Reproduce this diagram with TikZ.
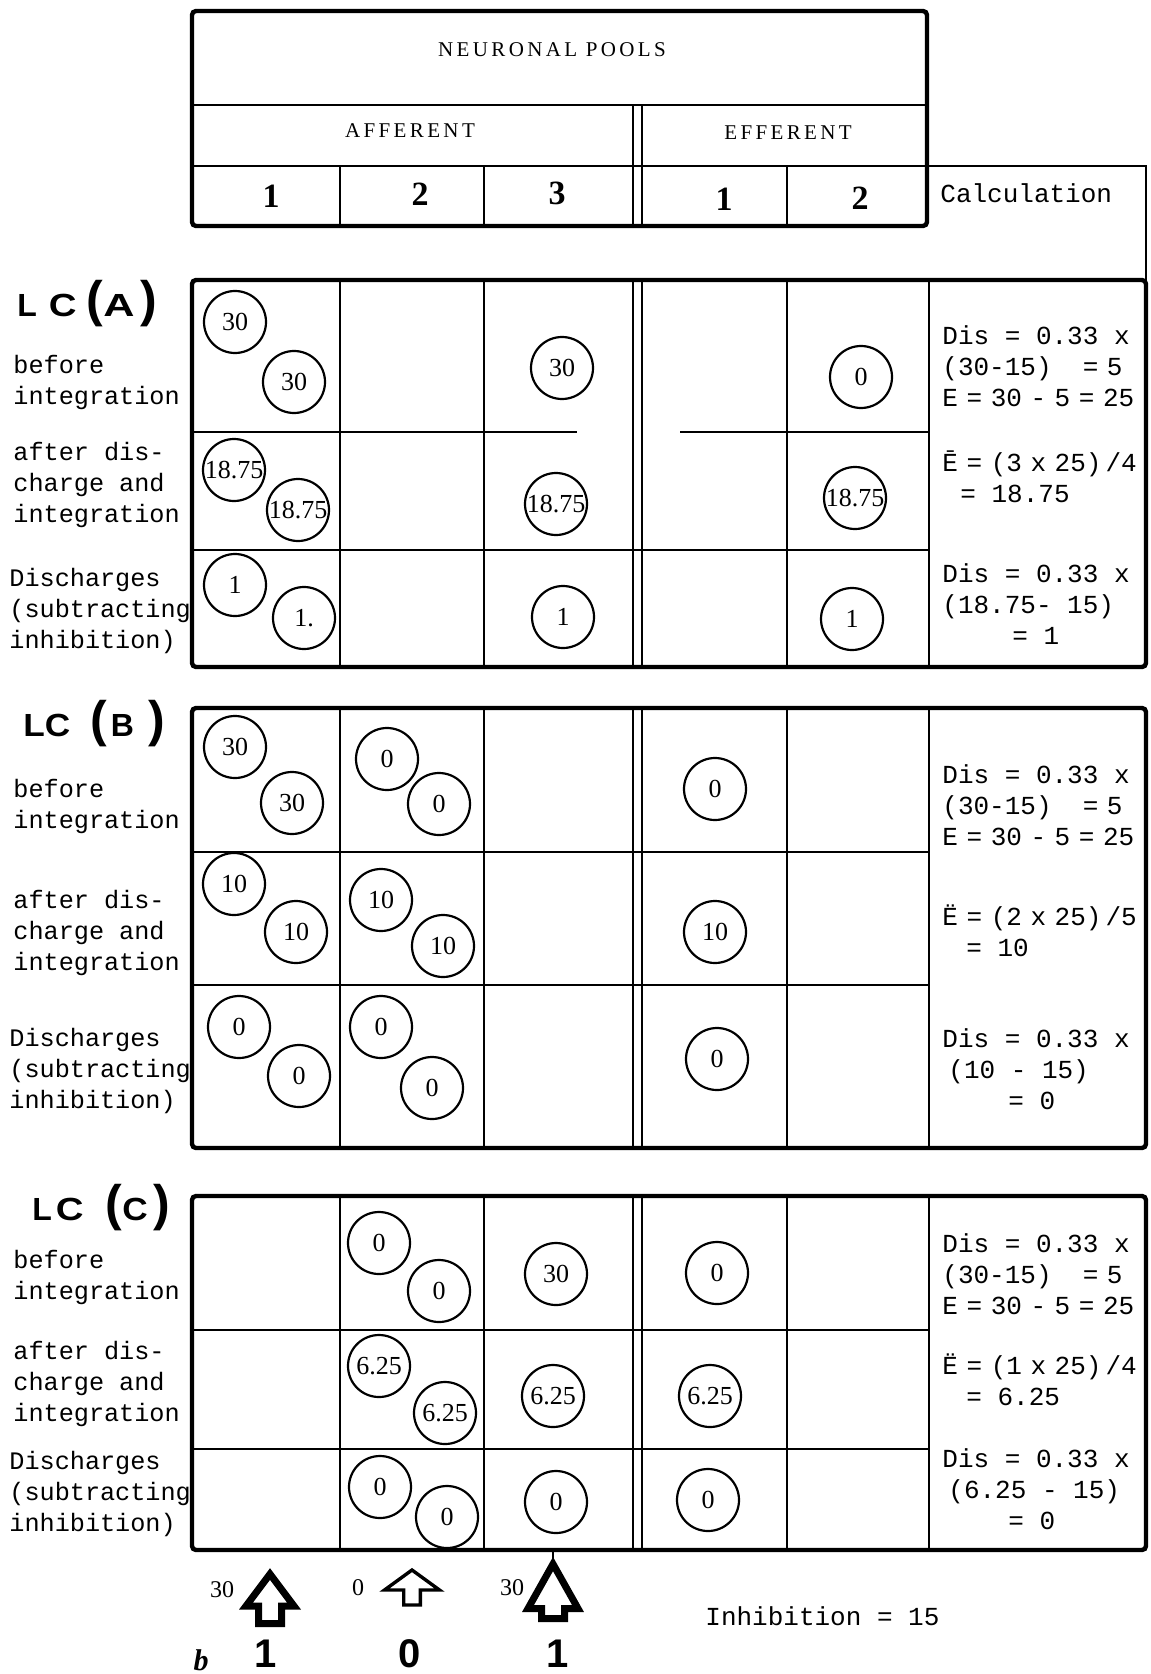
\documentclass[tikz,border=0pt]{standalone}
\usepackage{fontspec}
\setmainfont{Liberation Serif}
\newfontfamily\typefont{Liberation Mono}
\newfontfamily\capfont[LetterSpace=16]{Liberation Serif}
\newfontfamily\lcfont{Liberation Sans}
\usepackage{graphicx}
\usepackage{tikz}
\newcommand{\hs}{\hspace{0.33em}}
\newcommand{\bigp}[1]{{\fontsize{25}{25}\selectfont #1}}

\begin{document}
\begin{tikzpicture}[
x=0.5pt, y=-0.5pt,
frame/.style={line width=2.2pt, rounded corners=2pt},
grid/.style={line width=1pt},
headcap/.style={inner sep=0pt, font=\capfont\fontsize{10.5}{10.5}\selectfont},
hd/.style={inner sep=0pt, font=\bfseries\fontsize{17}{17}\selectfont},
lbl/.style={anchor=west, align=left, inner sep=0pt, font=\typefont\fontsize{12.6}{15.5}\selectfont},
calc/.style={lbl, font=\typefont\fontsize{13}{15.5}\selectfont},
lc/.style={anchor=west, inner sep=0pt, font=\lcfont\bfseries\fontsize{16}{16}\selectfont},
pool/.style={draw, circle, line width=1.1pt, minimum size=31pt, inner sep=0pt, font=\fontsize{13}{13}\selectfont},
val/.style={inner sep=0pt, font=\fontsize{12}{12}\selectfont},
bit/.style={inner sep=0pt, font=\lcfont\bfseries\fontsize{20}{20}\selectfont},
inarr/.style={draw, fill=white, line width=3.5pt, line join=miter}
]
\useasboundingbox (0,0) rectangle (1150,1674);

\draw[grid, line width=1.4pt] (192,105) -- (927,105);
\draw[grid] (192,166) -- (1146,166) -- (1146,280);
\foreach \x in {633,642} \draw[grid] (\x,105) -- (\x,226);
\foreach \x in {340,484,787} \draw[grid] (\x,166) -- (\x,226);
\draw[frame] (192,11) rectangle (927,226);
\node[headcap] (pools) at (552,50) {NEURONAL POOLS};
\node[headcap] (aff) at (410,131) {AFFERENT};
\node[headcap] (eff) at (788,133) {EFFERENT};
\node[hd] (h1) at (271,196) {1};
\node[hd] (h2) at (420,194) {2};
\node[hd] (h3) at (557,193) {3};
\node[hd] (he1) at (724,199) {1};
\node[hd] (he2) at (860,198) {2};
\node[calc] (calc) at (940,193) {Calculation};

\draw[grid] (192,432) -- (577,432) (680,432) -- (929,432) (192,550) -- (929,550);
\draw[grid] (192,852) -- (929,852) (192,985) -- (929,985);
\draw[grid] (192,1330) -- (929,1330) (192,1449) -- (929,1449);
\foreach \t/\b in {280/667, 708/1148, 1196/1550} {
  \foreach \x in {340,484,633,642,787,929} \draw[grid] (\x,\t) -- (\x,\b);
  \draw[frame] (192,\t) rectangle (1146,\b);
}

\node[lc] (lcA) at (17,304) {L\hspace{6pt}\scalebox{1.2}[1]{C}\hspace{5pt}\bigp{(}\scalebox{1.35}[1]{A}\hspace{3pt}\bigp{)}};
\node[lbl] (bA) at (13,382) {before\\integration};
\node[lbl] (aA) at (13,485) {after dis-\\charge and\\integration};
\node[lbl] (dA) at (9,611) {Discharges\\(subtracting\\inhibition)};
\node[pool] (A1p1) at (235,322) {30};
\node[pool] (A1p1b) at (294,382) {30};
\node[pool] (A1p3) at (562,368) {30};
\node[pool] (A1e2) at (861,377) {0};
\node[pool] (A2p1) at (234,470) {18.75};
\node[pool] (A2p1b) at (298,510) {18.75};
\node[pool] (A2p3) at (556,504) {18.75};
\node[pool] (A2e2) at (855,498) {18.75};
\node[pool] (A3p1) at (235,585) {1};
\node[pool] (A3p1b) at (304,618) {1.};
\node[pool] (A3p3) at (563,617) {1};
\node[pool] (A3e2) at (852,619) {1};
\node[calc] (cA1) at (942,366) {Dis = 0.33 x\\(30-15)~~=\hs 5\\E\hs=\hs30\hs-\hs5\hs=\hs25};
\node[calc] (cA2) at (942,477) {\=E\hs=\hs(3\hs x\hs 25)\hspace{2pt}/4\\\hspace*{9pt}= 18.75};
\node[calc] (cA3) at (942,604) {Dis = 0.33 x\\(18.75- 15)\\\hspace*{35pt}= 1};

\node[lc] (lcB) at (23,724) {\scalebox{1.1}[1]{LC}\hspace{10pt}\bigp{(}\hspace{2pt}B\hspace{7pt}\bigp{)}};
\node[lbl] (bB) at (13,806) {before\\integration};
\node[lbl] (aB) at (13,933) {after dis-\\charge and\\integration};
\node[lbl] (dB) at (9,1071) {Discharges\\(subtracting\\inhibition)};
\node[pool] (B1p1) at (235,747) {30};
\node[pool] (B1p1b) at (292,803) {30};
\node[pool] (B1p2) at (387,759) {0};
\node[pool] (B1p2b) at (439,804) {0};
\node[pool] (B1e1) at (715,789) {0};
\node[pool] (B2p1) at (234,884) {10};
\node[pool] (B2p1b) at (296,932) {10};
\node[pool] (B2p2) at (381,900) {10};
\node[pool] (B2p2b) at (443,946) {10};
\node[pool] (B2e1) at (715,932) {10};
\node[pool] (B3p1) at (239,1027) {0};
\node[pool] (B3p1b) at (299,1076) {0};
\node[pool] (B3p2) at (381,1027) {0};
\node[pool] (B3p2b) at (432,1088) {0};
\node[pool] (B3e1) at (717,1059) {0};
\node[calc] (cB1) at (942,805) {Dis = 0.33 x\\(30-15)~~=\hs 5\\E\hs=\hs30\hs-\hs5\hs=\hs25};
\node[calc] (cB2) at (942,931) {Ë\hs=\hs(2\hs x\hs 25)\hspace{2pt}/5\\\hspace*{12pt}= 10};
\node[calc] (cB3) at (942,1069) {Dis = 0.33 x\\\hspace*{3pt}(10 - 15)\\\hspace*{33pt}= 0};

\node[lc] (lcC) at (32,1208) {L\hspace{2pt}\scalebox{1.2}[1]{C}\hspace{11pt}\bigp{(}\scalebox{1.1}[1]{C}\hspace{3pt}\bigp{)}};
\node[lbl] (bC) at (13,1277) {before\\integration};
\node[lbl] (aC) at (13,1384) {after dis-\\charge and\\integration};
\node[lbl] (dC) at (9,1494) {Discharges\\(subtracting\\inhibition)};
\node[pool] (C1p2) at (379,1243) {0};
\node[pool] (C1p2b) at (439,1291) {0};
\node[pool] (C1p3) at (556,1274) {30};
\node[pool] (C1e1) at (717,1273) {0};
\node[pool] (C2p2) at (379,1366) {6.25};
\node[pool] (C2p2b) at (445,1413) {6.25};
\node[pool] (C2p3) at (553,1396) {6.25};
\node[pool] (C2e1) at (710,1396) {6.25};
\node[pool] (C3p2) at (380,1487) {0};
\node[pool] (C3p2b) at (447,1517) {0};
\node[pool] (C3p3) at (556,1502) {0};
\node[pool] (C3e1) at (708,1500) {0};
\node[calc] (cC1) at (942,1274) {Dis = 0.33 x\\(30-15)~~=\hs 5\\E\hs=\hs30\hs-\hs5\hs=\hs25};
\node[calc] (cC2) at (942,1380) {Ë\hs=\hs(1\hs x\hs 25)\hspace{2pt}/4\\\hspace*{12pt}= 6.25};
\node[calc] (cC3) at (942,1489) {Dis = 0.33 x\\\hspace*{3pt}(6.25 - 15)\\\hspace*{33pt}= 0};

\draw[inarr] (270,1574) -- (294,1606) -- (281.5,1606) -- (281.5,1623.5) -- (258.5,1623.5) -- (258.5,1606) -- (246,1606) -- cycle;
\draw[inarr, line width=1.7pt] (412,1570) -- (439.5,1590) -- (420.3,1590) -- (420.3,1605) -- (403.7,1605) -- (403.7,1590) -- (384.5,1590) -- cycle;
\draw[inarr] (553,1564) -- (578,1608.5) -- (564.5,1608.5) -- (564.5,1618.5) -- (541.5,1618.5) -- (541.5,1608.5) -- (528,1608.5) -- cycle;
\draw[grid] (553,1550) -- (553,1562);
\node[val] (v1) at (222,1590) {30};
\node[val] (v2) at (358,1588) {0};
\node[val] (v3) at (512,1588) {30};
\node[bit] (bit1) at (266,1654) {1};
\node[bit] (bit2) at (410,1654) {0};
\node[bit] (bit3) at (558,1654) {1};
\node[inner sep=0pt, font=\bfseries\itshape\fontsize{15}{15}\selectfont] (fig) at (201,1660) {b};
\node[calc] (inh) at (705,1616) {Inhibition = 15};
\end{tikzpicture}
\end{document}
